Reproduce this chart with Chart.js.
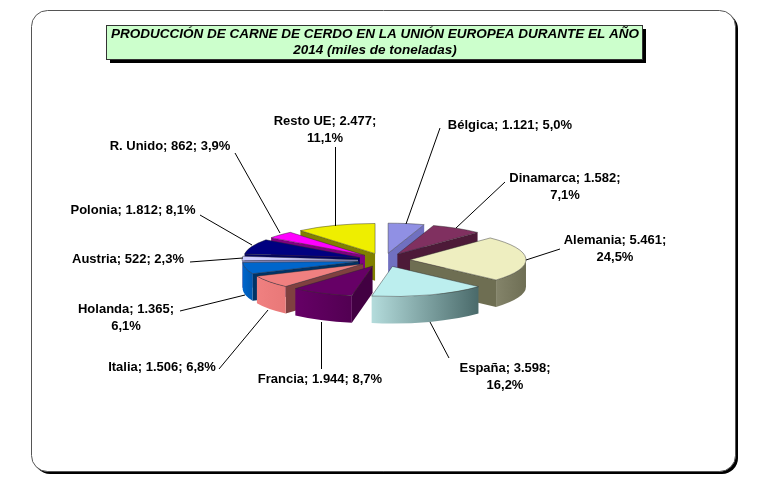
<!DOCTYPE html>
<html>
<head>
<meta charset="utf-8">
<title>Producción de carne de cerdo UE 2014</title>
<script src="https://cdn.jsdelivr.net/npm/chart.js@4/dist/chart.umd.min.js"></script>
<style>
  html, body { margin: 0; padding: 0; background: #fff; }
  canvas { display: block; }
</style>
</head>
<body>
<canvas id="chart" width="780" height="494"></canvas>
<script>
// data
const categories = ["Bélgica", "Dinamarca", "Alemania", "España", "Francia", "Italia", "Holanda", "Austria", "Polonia", "R. Unido", "Resto UE"];
const values = [1121, 1582, 5461, 3598, 1944, 1506, 1365, 522, 1812, 862, 2477];
const percents = ["5,0%", "7,1%", "24,5%", "16,2%", "8,7%", "6,8%", "6,1%", "2,3%", "8,1%", "3,9%", "11,1%"];
const titleLines = ["PRODUCCIÓN DE CARNE DE CERDO EN LA UNIÓN EUROPEA DURANTE EL AÑO", "2014 (miles de toneladas)"];

// look of the slices
const topColors = ["#9090e4", "#803060", "#eeeec0", "#bceeee", "#660066", "#f08080", "#0066cc", "#ccccff", "#000080", "#ff00ff", "#eeee00"];
const radialColors = ["#7070c0", "#4d1a38", "#6e6e52", "#5f8080", "#420042", "#7f4040", "#003366", "#8888bb", "#000060", "#800080", "#808000"];
const wallColors = [
  ["#7070c0", "#7070c0"], ["#4d1a38", "#4d1a38"], ["#84846a", "#6e6e54"], ["#b4dcdc", "#4a6a6a"],
  ["#660066", "#520052"], ["#f08080", "#e87878"], ["#0066cc", "#0058b0"], ["#8888bb", "#8888bb"],
  ["#000080", "#000060"], ["#a000a0", "#800080"], ["#808000", "#808000"],
];

// label placement: centre of the text block, where its leader starts, and whether it wraps
const labelCenters = [[510, 124], [565, 186], [615, 248], [505, 376], [320, 378], [162, 366], [126, 317], [128, 258], [133, 209], [170, 145], [325, 129]];
const leaderStarts = [[440, 128], [505, 182], [560, 249], [449, 358], [321.5, 369], [219, 369], [180, 311], [190, 262], [200, 215], [235, 153], [335.5, 147]];
const leaderEnds = [[406, 224], [456, 228], [526, 260], [430, 322], [321.5, 322], [268, 310], [245, 295], [243, 258], [252, 245], [280, 233], [335.5, 226]];
const wrapped = [false, true, true, true, false, false, true, false, false, false, true];

const SQUASH = 0.26; // tilt of the pie
const DEPTH = 27; // thickness of the pie
const EXPLODE = 26;
const FONT = '"Liberation Sans", Arial, sans-serif';

function thousands(n) {
  return String(n).replace(/\B(?=(\d{3})+$)/g, ".");
}

function labelLines(i) {
  const head = categories[i] + "; " + thousands(values[i]) + ";";
  return wrapped[i] ? [head, percents[i]] : [head + " " + percents[i]];
}

function roundedPath(ctx, x, y, w, h, r) {
  ctx.beginPath();
  ctx.roundRect(x, y, w, h, r);
}

// frame and title box behind the chart
const framePlugin = {
  id: "frame",
  beforeDraw(chart) {
    const ctx = chart.ctx;
    ctx.save();
    ctx.fillStyle = "#000";
    roundedPath(ctx, 34, 13, 704, 461, 16);
    ctx.fill();
    ctx.fillStyle = "#fff";
    ctx.strokeStyle = "#555";
    ctx.lineWidth = 1;
    roundedPath(ctx, 31.5, 10.5, 704, 461, 16);
    ctx.fill();
    ctx.stroke();

    ctx.fillStyle = "#000";
    ctx.fillRect(110, 29, 536, 34);
    ctx.fillStyle = "#ccffcc";
    ctx.fillRect(106.5, 25.5, 536, 34);
    ctx.strokeStyle = "#333";
    ctx.strokeRect(106.5, 25.5, 536, 34);

    ctx.fillStyle = "#000";
    ctx.font = "italic bold 13.5px " + FONT;
    ctx.textAlign = "center";
    ctx.textBaseline = "middle";
    ctx.fillText(titleLines[0], 375, 34);
    ctx.fillText(titleLines[1], 375, 50);
    ctx.restore();
  },
};

// pulls the slices apart, draws the side walls, squashes the pie and adds the labels
const pie3dPlugin = {
  id: "pie3d",
  afterDatasetsUpdate(chart) {
    chart.getDatasetMeta(0).data.forEach((arc) => {
      const mid = (arc.startAngle + arc.endAngle) / 2;
      arc.x += Math.cos(mid) * EXPLODE;
      arc.y += Math.sin(mid) * EXPLODE;
    });
  },
  beforeDatasetsDraw(chart) {
    const ctx = chart.ctx;
    const arcs = chart.getDatasetMeta(0).data;
    const cy = (chart.chartArea.top + chart.chartArea.bottom) / 2;
    const sy = (y) => cy + (y - cy) * SQUASH;

    const order = arcs.map((arc, i) => i).sort((a, b) => {
      const ma = (arcs[a].startAngle + arcs[a].endAngle) / 2;
      const mb = (arcs[b].startAngle + arcs[b].endAngle) / 2;
      return Math.sin(ma) - Math.sin(mb);
    });

    ctx.save();
    order.forEach((i) => {
      const arc = arcs[i];
      const r = arc.outerRadius;
      const ax = arc.x;
      const ay = sy(arc.y);

      // radial walls, only the ones turned to the viewer
      [arc.startAngle, arc.endAngle].forEach((angle, k) => {
        const visible = k === 0 ? Math.cos(angle) < 0 : Math.cos(angle) > 0;
        if (!visible) return;
        const ox = arc.x + Math.cos(angle) * r;
        const oy = sy(arc.y + Math.sin(angle) * r);
        ctx.beginPath();
        ctx.moveTo(ax, ay);
        ctx.lineTo(ox, oy);
        ctx.lineTo(ox, oy + DEPTH);
        ctx.lineTo(ax, ay + DEPTH);
        ctx.closePath();
        ctx.fillStyle = radialColors[i];
        ctx.fill();
      });

      // outer wall, front half of the rim only
      const from = Math.max(arc.startAngle, 0);
      const to = Math.min(arc.endAngle, Math.PI);
      if (to > from) {
        const x1 = arc.x + Math.cos(from) * r;
        const x2 = arc.x + Math.cos(to) * r;
        const grad = ctx.createLinearGradient(x2, 0, x1, 0);
        grad.addColorStop(0, wallColors[i][0]);
        grad.addColorStop(1, wallColors[i][1]);
        ctx.beginPath();
        ctx.ellipse(ax, ay, r, r * SQUASH, 0, from, to);
        ctx.ellipse(ax, ay + DEPTH, r, r * SQUASH, 0, to, from, true);
        ctx.closePath();
        ctx.fillStyle = grad;
        ctx.fill();
      }
    });
    ctx.restore();

    // the library's own arcs are the squashed top faces
    ctx.save();
    ctx.translate(0, cy);
    ctx.scale(1, SQUASH);
    ctx.translate(0, -cy);
  },
  afterDatasetsDraw(chart) {
    const ctx = chart.ctx;
    ctx.restore();

    ctx.save();
    ctx.strokeStyle = "#000";
    ctx.lineWidth = 1;
    leaderStarts.forEach((start, i) => {
      ctx.beginPath();
      ctx.moveTo(start[0], start[1]);
      ctx.lineTo(leaderEnds[i][0], leaderEnds[i][1]);
      ctx.stroke();
    });

    ctx.fillStyle = "#000";
    ctx.font = "bold 13px " + FONT;
    ctx.textAlign = "center";
    ctx.textBaseline = "middle";
    labelCenters.forEach((pos, i) => {
      const lines = labelLines(i);
      lines.forEach((line, k) => {
        ctx.fillText(line, pos[0], pos[1] + 1 + (k - (lines.length - 1) / 2) * 17);
      });
    });
    ctx.restore();
  },
};

new Chart(document.getElementById("chart"), {
  type: "pie",
  data: {
    labels: categories,
    datasets: [{
      data: values,
      backgroundColor: topColors,
      borderColor: "rgba(40, 40, 40, 0.7)",
      borderWidth: 1,
    }],
  },
  plugins: [framePlugin, pie3dPlugin],
  options: {
    responsive: false,
    animation: false,
    events: [],
    radius: 116,
    layout: { padding: { right: 12, top: 26 } },
    plugins: {
      legend: { display: false },
      tooltip: { enabled: false },
    },
  },
});
</script>
</body>
</html>
